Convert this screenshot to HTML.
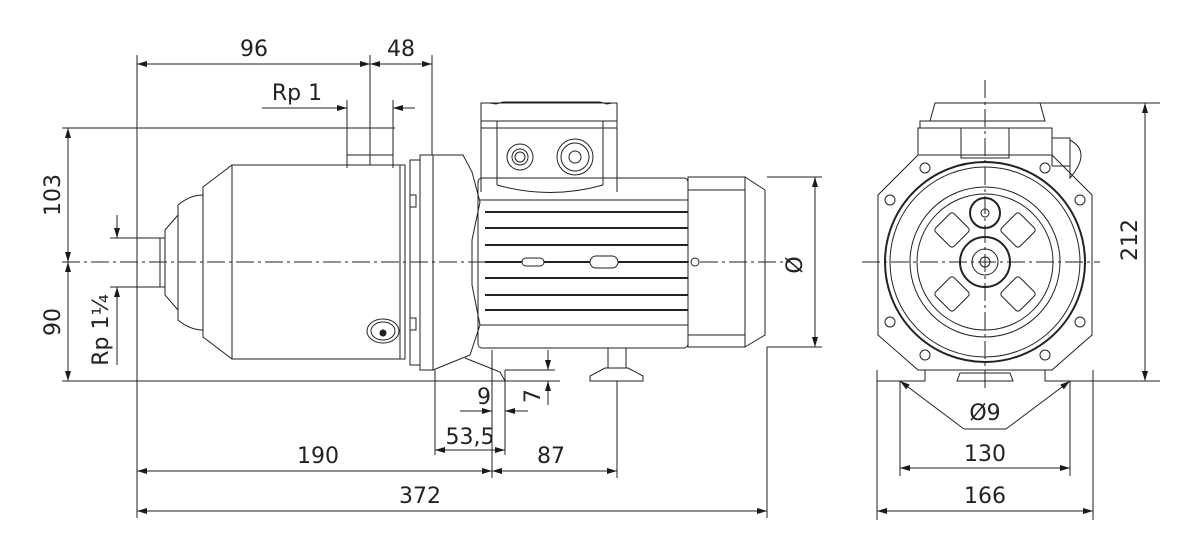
<!DOCTYPE html>
<html><head><meta charset="utf-8"><style>
html,body{margin:0;padding:0;background:#fff}
svg{display:block}
text{font-family:"DejaVu Sans","Liberation Sans",sans-serif;font-size:22px;fill:#222}
</style></head><body>
<svg width="1200" height="560" viewBox="0 0 1200 560" xmlns="http://www.w3.org/2000/svg">
<defs>
<marker id="a" viewBox="0 0 10 6" refX="10" refY="3" markerWidth="10" markerHeight="6" orient="auto-start-reverse" markerUnits="userSpaceOnUse"><path d="M0,0L10,3L0,6z" fill="#1a1a1a"/></marker>
</defs>
<g stroke="#222" stroke-width="1" fill="none">
<line x1="137" y1="55" x2="137" y2="518"/>
<line x1="370" y1="55" x2="370" y2="165"/>
<line x1="432" y1="55" x2="432" y2="155"/>
<line x1="62" y1="128" x2="395" y2="128"/>
<line x1="62" y1="381" x2="560" y2="381"/>
<line x1="767" y1="347" x2="767" y2="518"/>
<line x1="617" y1="381" x2="617" y2="478"/>
<line x1="492" y1="350" x2="492" y2="478"/>
<line x1="435" y1="370" x2="435" y2="455"/>
<line x1="505" y1="370" x2="505" y2="455"/>
<line x1="767" y1="177" x2="822" y2="177"/>
<line x1="767" y1="347" x2="822" y2="347"/>
<line x1="505" y1="370" x2="555" y2="370"/>
<line x1="137" y1="64" x2="370" y2="64" marker-start="url(#a)" marker-end="url(#a)"/>
<line x1="370" y1="64" x2="432" y2="64" marker-start="url(#a)" marker-end="url(#a)"/>
<line x1="68" y1="128" x2="68" y2="262" marker-start="url(#a)" marker-end="url(#a)"/>
<line x1="68" y1="262" x2="68" y2="381" marker-start="url(#a)" marker-end="url(#a)"/>
<line x1="262" y1="108" x2="347" y2="108" marker-end="url(#a)"/>
<line x1="415" y1="108" x2="393" y2="108" marker-end="url(#a)"/>
<line x1="347" y1="100" x2="347" y2="168"/>
<line x1="393" y1="100" x2="393" y2="168"/>
<line x1="117" y1="215" x2="117" y2="238" marker-end="url(#a)"/>
<line x1="117" y1="365" x2="117" y2="287" marker-end="url(#a)"/>
<line x1="110" y1="238" x2="140" y2="238"/>
<line x1="110" y1="287" x2="140" y2="287"/>
<line x1="815" y1="177" x2="815" y2="347" marker-start="url(#a)" marker-end="url(#a)"/>
<line x1="548" y1="350" x2="548" y2="370" marker-end="url(#a)"/>
<line x1="548" y1="405" x2="548" y2="381" marker-end="url(#a)"/>
<line x1="460" y1="411" x2="492" y2="411" marker-end="url(#a)"/>
<line x1="528" y1="411" x2="505" y2="411" marker-end="url(#a)"/>
<line x1="435" y1="450" x2="505" y2="450" marker-start="url(#a)" marker-end="url(#a)"/>
<line x1="137" y1="471" x2="492" y2="471" marker-start="url(#a)" marker-end="url(#a)"/>
<line x1="492" y1="471" x2="617" y2="471" marker-start="url(#a)" marker-end="url(#a)"/>
<line x1="137" y1="511" x2="767" y2="511" marker-start="url(#a)" marker-end="url(#a)"/>
<line x1="62" y1="262" x2="790" y2="262" stroke-dasharray="18,4,3,4"/>
<rect x="137" y="238" width="28" height="49"/>
<line x1="160" y1="238" x2="160" y2="287"/>
<path d="M165,230 L178,215 L178,310 L165,295z"/>
<path d="M178,205 Q190,195 203,195 L203,330 Q190,330 178,320z"/>
<path d="M203,187 L232,165 L405,165 L405,359 L232,359 L203,337z"/>
<line x1="232" y1="165" x2="232" y2="359"/>
<line x1="400" y1="165" x2="400" y2="359"/>
<path d="M347,150 L347,165 M393,150 L393,165 M347,155 L393,155"/>
<ellipse cx="383" cy="331" rx="16" ry="12"/><ellipse cx="383" cy="331" rx="12" ry="9"/><circle cx="383" cy="333" r="3" fill="#222"/>
<rect x="410" y="160" width="10" height="205"/>
<rect x="420" y="155" width="13" height="215"/>
<path d="M433,155 L463,155 L472,172 L480,202 L472,240 L472,285 L480,325 L470,355 L433,370z"/>
<path d="M465,358 L500,372 L505,381"/>
<rect x="410" y="195" width="6" height="12"/><rect x="410" y="318" width="6" height="12"/>
<rect x="478" y="178" width="210" height="170" rx="4"/>
<line x1="480" y1="200" x2="688" y2="200"/>
<line x1="480" y1="325" x2="688" y2="325"/>
<g stroke-width="2">
<line x1="485" y1="212" x2="688" y2="212"/><line x1="485" y1="228" x2="688" y2="228"/>
<line x1="485" y1="245" x2="688" y2="245"/><line x1="485" y1="262" x2="688" y2="262"/>
<line x1="485" y1="278" x2="688" y2="278"/><line x1="485" y1="295" x2="688" y2="295"/>
<line x1="485" y1="310" x2="688" y2="310"/>
</g>
<rect x="522" y="258" width="22" height="8" rx="4" fill="#fff"/>
<rect x="590" y="256" width="28" height="12" rx="6" fill="#fff"/>
<circle cx="695" cy="262" r="4" fill="#fff"/>
<rect x="688" y="177" width="57" height="170"/>
<path d="M745,177 L765,190 L765,335 L745,347"/>
<line x1="688" y1="190" x2="745" y2="190"/><line x1="688" y1="335" x2="745" y2="335"/>
<path d="M481,192 L481,103 L617,103 L617,192"/>
<path d="M490,103 L496,104 L503,102 L600,102 L607,104 L612,103"/>
<line x1="481" y1="121" x2="617" y2="121"/><line x1="481" y1="128" x2="617" y2="128"/>
<line x1="497" y1="121" x2="497" y2="185"/><line x1="603" y1="121" x2="603" y2="185"/>
<path d="M497,185 Q550,200 603,185"/>
<circle cx="520" cy="157" r="13"/><circle cx="520" cy="157" r="8"/><circle cx="520" cy="157" r="5"/>
<circle cx="575" cy="157" r="18"/><circle cx="575" cy="157" r="14"/><circle cx="575" cy="157" r="6"/>
<rect x="608" y="348" width="18" height="20"/>
<path d="M590,381 L590,376 L605,368 L628,368 L643,376 L643,381z"/>
<line x1="985" y1="80" x2="985" y2="390" stroke-dasharray="18,4,3,4"/>
<line x1="862" y1="262" x2="1100" y2="262" stroke-dasharray="18,4,3,4"/>
<line x1="935" y1="103" x2="1160" y2="103"/>
<line x1="1093" y1="381" x2="1160" y2="381"/>
<line x1="1145" y1="103" x2="1145" y2="381" marker-start="url(#a)" marker-end="url(#a)"/>
<path d="M918,155 L918,128 L1052,128 L1052,155"/>
<path d="M930,121 L935,103 L1040,103 L1045,121 L920,121 L920,128"/>
<rect x="961" y="128" width="48" height="30"/>
<rect x="1052" y="138" width="18" height="28"/>
<path d="M1070,140 Q1092,152 1070,178z"/>
<path d="M918,155 L1052,155 L1092,195 L1092,335 L1052,370 L918,370 L878,335 L878,195z"/>
<circle cx="985" cy="262" r="100" stroke-width="2"/>
<circle cx="985" cy="262" r="95"/>
<circle cx="985" cy="262" r="75"/>
<circle cx="985" cy="262" r="68"/>
<circle cx="985" cy="262" r="25" stroke-width="2"/>
<circle cx="985" cy="262" r="13"/>
<circle cx="985" cy="262" r="5"/>
<circle cx="985" cy="213" r="15" stroke-width="2"/>
<circle cx="985" cy="213" r="4"/>
<g transform="rotate(45 952 230)"><rect x="939" y="217" width="26" height="26" rx="3"/></g>
<g transform="rotate(45 1018 230)"><rect x="1005" y="217" width="26" height="26" rx="3"/></g>
<g transform="rotate(45 952 294)"><rect x="939" y="281" width="26" height="26" rx="3"/></g>
<g transform="rotate(45 1018 294)"><rect x="1005" y="281" width="26" height="26" rx="3"/></g>
<circle cx="925" cy="168" r="5"/><circle cx="1045" cy="168" r="5"/>
<circle cx="890" cy="200" r="5"/><circle cx="1080" cy="200" r="5"/>
<circle cx="890" cy="322" r="5"/><circle cx="1080" cy="322" r="5"/>
<circle cx="925" cy="355" r="5"/><circle cx="1045" cy="355" r="5"/>
<path d="M877,370 L877,381 L925,381 L925,370 M1093,370 L1093,381 L1045,381 L1045,370"/>
<path d="M957,381 L960,373 L1010,373 L1013,381z"/>
<line x1="877" y1="381" x2="877" y2="520"/><line x1="1093" y1="381" x2="1093" y2="520"/>
<line x1="900" y1="381" x2="900" y2="476"/><line x1="1070" y1="381" x2="1070" y2="476"/>
<line x1="964" y1="429" x2="900" y2="381" marker-end="url(#a)"/>
<line x1="1006" y1="429" x2="1070" y2="381" marker-end="url(#a)"/>
<line x1="964" y1="429" x2="1006" y2="429"/>
<line x1="900" y1="468" x2="1070" y2="468" marker-start="url(#a)" marker-end="url(#a)"/>
<line x1="877" y1="511" x2="1093" y2="511" marker-start="url(#a)" marker-end="url(#a)"/>
</g>
<text x="254" y="56" text-anchor="middle">96</text>
<text x="401" y="56" text-anchor="middle">48</text>
<text x="297" y="100" text-anchor="middle">Rp 1</text>
<text x="484" y="404" text-anchor="middle">9</text>
<text x="470" y="444" text-anchor="middle">53,5</text>
<text x="318" y="463" text-anchor="middle">190</text>
<text x="551" y="463" text-anchor="middle">87</text>
<text x="420" y="503" text-anchor="middle">372</text>
<text x="985" y="420" text-anchor="middle">Ø9</text>
<text x="985" y="461" text-anchor="middle">130</text>
<text x="985" y="503" text-anchor="middle">166</text>
<text transform="translate(60,195) rotate(-90)" text-anchor="middle">103</text>
<text transform="translate(60,322) rotate(-90)" text-anchor="middle">90</text>
<text transform="translate(108,330) rotate(-90)" text-anchor="middle">Rp 1¼</text>
<text transform="translate(540,396) rotate(-90)" text-anchor="middle">7</text>
<text transform="translate(802,265) rotate(-90)" text-anchor="middle">Ø</text>
<text transform="translate(1137,240) rotate(-90)" text-anchor="middle">212</text>
</svg>
</body></html>
